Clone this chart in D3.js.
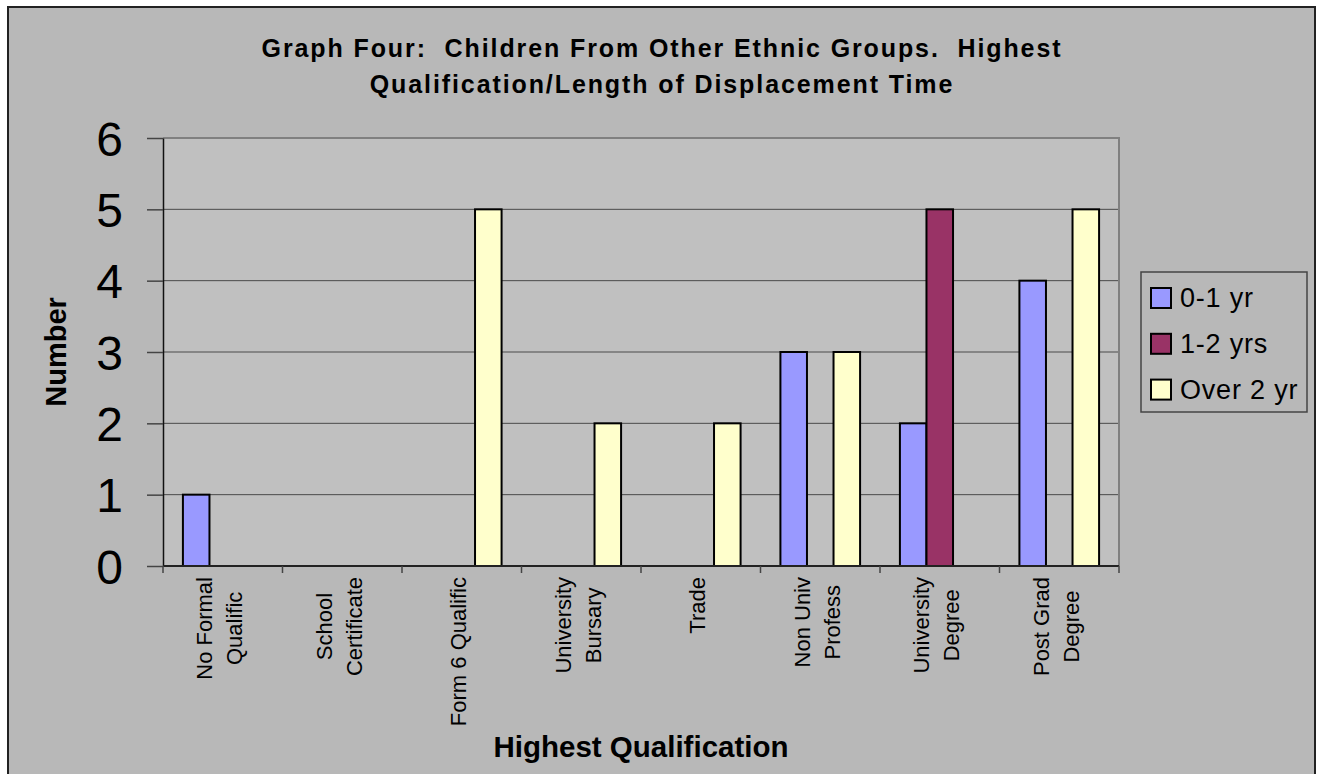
<!DOCTYPE html>
<html>
<head>
<meta charset="utf-8">
<script src="https://cdn.jsdelivr.net/npm/d3@7"></script>
<style>
  html, body { margin: 0; padding: 0; background: #ffffff; }
  svg { display: block; font-family: "Liberation Sans", Arial, sans-serif; }
  text { white-space: pre; }
</style>
</head>
<body>
<svg id="chart" width="1319" height="774"></svg>
<script>
// Qualification categories (each entry is a list of wrapped label lines)
const categories = [
  ["No Formal", "Qualific"],
  ["School", "Certificate"],
  ["Form 6 Qualific"],
  ["University", "Bursary"],
  ["Trade"],
  ["Non Univ", "Profess"],
  ["University", "Degree"],
  ["Post Grad", "Degree"]
];
const seriesNames = ["0-1 yr", "1-2 yrs", "Over 2 yr"];
const seriesColors = ["#9999ff", "#993366", "#ffffcc"];
const values01 = [1, 0, 0, 0, 0, 3, 2, 4];
const values12 = [0, 0, 0, 0, 0, 0, 5, 0];
const valuesOver2 = [0, 0, 5, 2, 2, 3, 0, 5];
const yTicks = [0, 1, 2, 3, 4, 5, 6];
const titleLines = [
  "Graph Four:  Children From Other Ethnic Groups.  Highest",
  "Qualification/Length of Displacement Time"
];
const xTitle = "Highest Qualification";
const yTitle = "Number";

const seriesValues = [values01, values12, valuesOver2];

const svg = d3.select("#chart");
const plot = { left: 163, top: 138, right: 1119, bottom: 566 };

// chart area background and frame
svg.append("rect").attr("x", 8).attr("y", 7).attr("width", 1307).attr("height", 780)
  .attr("fill", "#b8b8b8").attr("stroke", "#222").attr("stroke-width", 2);

// plot area
svg.append("rect")
  .attr("x", plot.left).attr("y", plot.top)
  .attr("width", plot.right - plot.left).attr("height", plot.bottom - plot.top)
  .attr("fill", "#c0c0c0");

const x0 = d3.scaleBand().domain(d3.range(categories.length))
  .range([plot.left, plot.right]).paddingInner(0).paddingOuter(0);
// 150% gap width: bars occupy 3/(3+1.5) of each category
const gapRatio = 1.5 / (seriesNames.length + 1.5);
const x1 = d3.scaleBand().domain(d3.range(seriesNames.length))
  .range([x0.bandwidth() * gapRatio / 2, x0.bandwidth() * (1 - gapRatio / 2)])
  .paddingOuter(0).paddingInner(0);

const y = d3.scaleLinear().domain([0, 6]).range([plot.bottom, plot.top]);

// horizontal gridlines
svg.append("g").selectAll("line").data(yTicks.filter(d => d > 0 && d < 6)).join("line")
  .attr("x1", plot.left).attr("x2", plot.right)
  .attr("y1", d => y(d)).attr("y2", d => y(d))
  .attr("stroke", "#4a4a4a").attr("stroke-width", 1);

// plot frame top & right
svg.append("path")
  .attr("d", `M${plot.left},${plot.top}H${plot.right}V${plot.bottom}`)
  .attr("fill", "none").attr("stroke", "#808080").attr("stroke-width", 2);

// bars
const groups = svg.append("g").selectAll("g").data(categories).join("g")
  .attr("transform", (d, i) => `translate(${x0(i)},0)`);
groups.selectAll("rect")
  .data((d, i) => seriesValues.map((vals, s) => ({ s, v: vals[i] })).filter(e => e.v > 0))
  .join("rect")
  .attr("x", e => x1(e.s))
  .attr("width", x1.bandwidth())
  .attr("y", e => y(e.v))
  .attr("height", e => y(0) - y(e.v))
  .attr("fill", e => seriesColors[e.s])
  .attr("stroke", "#000").attr("stroke-width", 2);

// y axis
const yAxis = d3.axisLeft(y).tickValues(yTicks).tickSize(16).tickSizeOuter(0)
  .tickPadding(24).tickFormat(d3.format("d"));
const yg = svg.append("g").attr("transform", `translate(${plot.left},0)`).call(yAxis);
yg.select(".domain").attr("stroke", "#111").attr("stroke-width", 1.5);
yg.selectAll(".tick line").attr("stroke", "#444").attr("stroke-width", 1.5);
yg.selectAll(".tick text").attr("font-size", 48).attr("fill", "#000")
  .attr("font-family", "'Liberation Sans', Arial, sans-serif")
  .attr("dy", "0.36em");

// x axis line and ticks at category boundaries
svg.append("line").attr("x1", plot.left).attr("x2", plot.right)
  .attr("y1", plot.bottom).attr("y2", plot.bottom)
  .attr("stroke", "#222").attr("stroke-width", 2);
const bounds = d3.range(categories.length + 1).map(i => plot.left + i * x0.bandwidth());
svg.append("g").selectAll("line").data(bounds).join("line")
  .attr("x1", d => d).attr("x2", d => d)
  .attr("y1", plot.bottom).attr("y2", plot.bottom + 7)
  .attr("stroke", "#444").attr("stroke-width", 1.5);

// rotated category labels: block top-aligned below axis, lines centered in block
const labelFont = 22, lineGap = 30, labelTop = 577;
categories.forEach((lines, i) => {
  const cx = x0(i) + x0.bandwidth() / 2;
  const g = svg.append("g");
  const texts = lines.map((ln, k) => {
    const gx = cx + (k - (lines.length - 1) / 2) * lineGap + labelFont * 0.2;
    return { gx, t: g.append("text").text(ln)
      .attr("font-size", labelFont).attr("fill", "#000")
      .attr("text-anchor", "middle") };
  });
  const maxLen = d3.max(texts, o => o.t.node().getComputedTextLength());
  const cy = labelTop + maxLen / 2;
  texts.forEach(o => o.t.attr("transform", `translate(${o.gx},${cy}) rotate(-90)`));
});

// title
svg.append("g").selectAll("text").data(titleLines).join("text")
  .attr("x", 662).attr("y", (d, i) => 57 + i * 36)
  .attr("text-anchor", "middle").attr("font-weight", "bold").attr("font-size", 25)
  .attr("letter-spacing", 1.9)
  .text(d => d);

// axis titles
svg.append("text").attr("x", (plot.left + plot.right) / 2).attr("y", 757)
  .attr("text-anchor", "middle").attr("font-weight", "bold").attr("font-size", 29.5)
  .text(xTitle);
svg.append("text")
  .attr("transform", `translate(66,${(plot.top + plot.bottom) / 2}) rotate(-90)`)
  .attr("text-anchor", "middle").attr("font-weight", "bold").attr("font-size", 29)
  .text(yTitle);

// legend
const lg = svg.append("g");
lg.append("rect").attr("x", 1141).attr("y", 272).attr("width", 166).attr("height", 140)
  .attr("fill", "#b8b8b8").attr("stroke", "#444").attr("stroke-width", 1.5);
const items = lg.selectAll("g.item").data(seriesNames).join("g").attr("class", "item")
  .attr("transform", (d, i) => `translate(1151,${288 + i * 45.8})`);
items.append("rect").attr("width", 20).attr("height", 20)
  .attr("fill", (d, i) => seriesColors[i]).attr("stroke", "#000").attr("stroke-width", 2);
items.append("text").attr("x", 29).attr("y", 19).attr("font-size", 27)
  .attr("letter-spacing", 0.8).text(d => d);
</script>
</body>
</html>
